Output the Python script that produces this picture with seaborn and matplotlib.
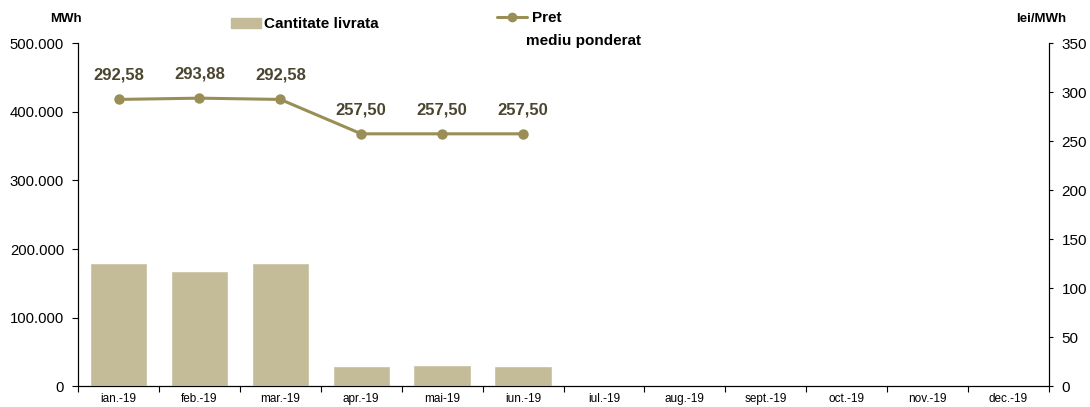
#!/usr/bin/env python3
"""Monthly delivered quantity (bars) and weighted average price (line), 2019."""

import matplotlib
matplotlib.use("Agg")
import matplotlib.pyplot as plt
from matplotlib.lines import Line2D
from matplotlib.patches import Patch
from matplotlib.ticker import FuncFormatter, FixedLocator
import numpy as np
import pandas as pd
import seaborn as sns

months = ["ian.-19", "feb.-19", "mar.-19", "apr.-19", "mai-19", "iun.-19",
          "iul.-19", "aug.-19", "sept.-19", "oct.-19", "nov.-19", "dec.-19"]
quantity_mwh = [179000, 168500, 179000, 29000, 30500, 29000]
price_lei = [292.58, 293.88, 292.58, 257.50, 257.50, 257.50]
price_labels = ["292,58", "293,88", "292,58", "257,50", "257,50", "257,50"]

BAR_COLOR = "#C4BC98"
LINE_COLOR = "#9A8E57"
LABEL_COLOR = "#4B4630"

sns.set_theme(style="white")
plt.rcParams["font.family"] = ["Liberation Sans", "DejaVu Sans"]
plt.rcParams["text.color"] = "black"
plt.rcParams["xtick.color"] = "black"
plt.rcParams["ytick.color"] = "black"

df = pd.DataFrame({"month": months[:len(quantity_mwh)], "qty": quantity_mwh})

fig = plt.figure(figsize=(10.9, 4.07), dpi=100)
ax = fig.add_axes([0.0716, 0.051, 0.8908, 0.843])

sns.barplot(data=df, x="month", y="qty", order=months, color=BAR_COLOR,
            saturation=1, width=0.71, ax=ax)
ax.set_xlim(-0.5, len(months) - 0.5)
ax.set_ylim(0, 500000)
ax.set_yticks(np.arange(0, 500001, 100000))
ax.yaxis.set_major_formatter(FuncFormatter(lambda v, _: f"{int(v):,}".replace(",", ".")))
ax.set_xlabel("")
ax.set_ylabel("")

# Excel-like category axis: ticks at boundaries, labels centred
ax.xaxis.set_major_locator(FixedLocator(np.arange(-0.5, len(months), 1.0)))
ax.xaxis.set_major_formatter(FuncFormatter(lambda v, _: ""))
ax.set_xticks(np.arange(len(months)), months, minor=True)
ax.tick_params(axis="x", which="major", direction="out", length=4, width=0.8,
               color="black", bottom=True)
ax.tick_params(axis="x", which="minor", length=0, labelsize=8.5, pad=5,
               labelcolor="black")
ax.tick_params(axis="y", direction="out", length=4, width=0.8, color="black",
               left=True, labelsize=10.7, pad=6, labelcolor="black")

ax2 = ax.twinx()
x_pos = np.arange(len(price_lei))
sns.lineplot(x=x_pos, y=price_lei, ax=ax2, color=LINE_COLOR, linewidth=2.2,
             marker="o", markersize=7.5, markeredgewidth=0, markerfacecolor=LINE_COLOR)
ax2.set_ylim(0, 350)
ax2.set_yticks(np.arange(0, 351, 50))
ax2.tick_params(axis="y", direction="out", length=3, width=0.8, color="black",
                right=True, labelsize=11, pad=6, labelcolor="black")
ax2.set_ylabel("")
for xp, yv, lab in zip(x_pos, price_lei, price_labels):
    ax2.annotate(lab, (xp, yv), xytext=(0, 12), textcoords="offset points",
                 ha="center", va="bottom", fontsize=12, fontweight="bold",
                 color=LABEL_COLOR)

for a in (ax, ax2):
    a.grid(False)
    a.spines["top"].set_visible(False)
    for s in ("left", "right", "bottom"):
        a.spines[s].set_color("black")
        a.spines[s].set_linewidth(0.8)

fig.text(0.046, 0.953, "MWh", fontsize=9.5, fontweight="bold", ha="left", va="center")
fig.text(0.932, 0.953, "lei/MWh", fontsize=9.5, fontweight="bold", ha="left", va="center")

fig.legend(handles=[Patch(color=BAR_COLOR)], labels=["Cantitate livrata"],
           loc="center left", bbox_to_anchor=(0.199, 0.94), frameon=False,
           handlelength=2.0, handleheight=0.6, handletextpad=0.2,
           prop={"weight": "bold", "size": 11})
fig.legend(handles=[Line2D([], [], color=LINE_COLOR, lw=2.2, marker="o",
                           markersize=7, markeredgewidth=0)],
           labels=["Pret"], loc="center left", bbox_to_anchor=(0.443, 0.955),
           frameon=False, handlelength=2.0, handletextpad=0.3,
           prop={"weight": "bold", "size": 11})
fig.text(0.4825, 0.9, "mediu ponderat", fontsize=11, fontweight="bold",
         ha="left", va="center")

fig.savefig("out.png", dpi=100)
